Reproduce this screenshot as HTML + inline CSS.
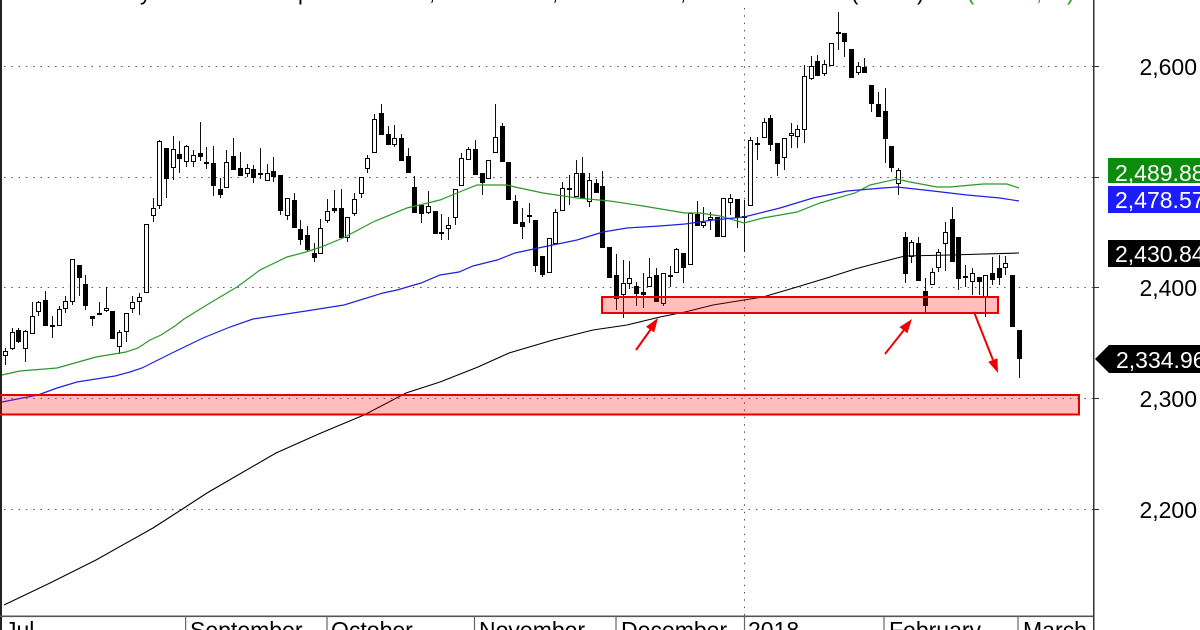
<!DOCTYPE html>
<html>
<head>
<meta charset="utf-8">
<style>
  html,body{margin:0;padding:0;background:#fff;}
  svg{display:block;}
  text{font-family:"Liberation Sans",Arial,sans-serif;}
</style>
</head>
<body>
<svg width="1200" height="630" viewBox="0 0 1200 630" xmlns="http://www.w3.org/2000/svg">
  <rect x="0" y="0" width="1200" height="630" fill="#fff"/>

  <!-- title descenders (title mostly cut off) -->
  <g font-size="22" fill="#000">
    <text x="140" y="0">y</text>
    <text x="298" y="0">p</text>
    <text x="429" y="0">,</text>
    <text x="552" y="0">,</text>
    <text x="680" y="0">,</text>
    <text x="851" y="0">(</text>
    <text x="917" y="0">)</text>
    <text x="967" y="0" fill="#2a9a2a">(</text>
    <text x="1036" y="0" fill="#2a9a2a">,</text>
    <text x="1067" y="0" fill="#2a9a2a">)</text>
  </g>

  <!-- grid -->
  <g stroke="#555" stroke-width="1" stroke-dasharray="1.5 5.8" fill="none">
    <line x1="4" y1="66.5" x2="1093" y2="66.5"/>
    <line x1="4" y1="177.5" x2="1093" y2="177.5"/>
    <line x1="4" y1="287.5" x2="1093" y2="287.5"/>
    <line x1="4" y1="398.5" x2="1093" y2="398.5"/>
    <line x1="4" y1="509.5" x2="1093" y2="509.5"/>
    <line x1="744.5" y1="8" x2="744.5" y2="616"/>
  </g>

  <!-- axes -->
  <rect x="0" y="0" width="2" height="630" fill="#222"/>
  <rect x="0" y="615.5" width="1094" height="1.6" fill="#555"/>
  <rect x="1093" y="0" width="1.5" height="630" fill="#333"/>
  <g stroke="#333" stroke-width="1">
    <line x1="1094" y1="66.5" x2="1099" y2="66.5"/>
    <line x1="1094" y1="177.5" x2="1099" y2="177.5"/>
    <line x1="1094" y1="287.5" x2="1099" y2="287.5"/>
    <line x1="1094" y1="398.5" x2="1099" y2="398.5"/>
    <line x1="1094" y1="509.5" x2="1099" y2="509.5"/>
  </g>
  <g stroke="#666" stroke-width="1.2">
    <line x1="185.6" y1="616" x2="185.6" y2="630"/>
    <line x1="327" y1="616" x2="327" y2="630"/>
    <line x1="474.5" y1="616" x2="474.5" y2="630"/>
    <line x1="616" y1="616" x2="616" y2="630"/>
    <line x1="744.5" y1="616" x2="744.5" y2="630"/>
    <line x1="884" y1="616" x2="884" y2="630"/>
    <line x1="1018" y1="616" x2="1018" y2="630"/>
  </g>

  <!-- month labels -->
  <g font-size="23" fill="#000">
    <text x="5" y="638">Jul</text>
    <text x="190" y="638">September</text>
    <text x="331" y="638">October</text>
    <text x="479" y="638">November</text>
    <text x="621" y="638">December</text>
    <text x="748" y="638">2018</text>
    <text x="889" y="638">February</text>
    <text x="1023" y="638">March</text>
  </g>

  <!-- price labels -->
  <g font-size="23" fill="#000" text-anchor="end">
    <text x="1197" y="75">2,600</text>
    <text x="1197" y="296">2,400</text>
    <text x="1197" y="407">2,300</text>
    <text x="1197" y="518">2,200</text>
  </g>

  <!-- wicks -->
  <path fill="none" stroke="#111" stroke-width="1" d="M5.5 348V365M12.5 328V350M18.5 328V343M25.5 330V362M32.5 302V334M38.5 301V316M45.5 291V326M52.5 316V338M59.5 306V326M65.5 296V313M72.5 259V305M79.5 265V296M85.5 275V310M92.5 316V326M99.5 302V315M106.5 287V312M112.5 311V339M119.5 330V354M126.5 313V342M132.5 296V313M139.5 293V315M146.5 224V293M153.5 198V222M159.5 140V209M166.5 148V198M173.5 136V180M179.5 141V173M186.5 145V167M193.5 150V167M200.5 122V161M206.5 147V169M213.5 146V196M220.5 178V198M226.5 150V188M233.5 138V170M240.5 152V176M247.5 164V177M253.5 165V183M260.5 148V179M267.5 164V181M273.5 157V182M280.5 175V215M287.5 198V220M294.5 193V228M300.5 220V245M307.5 226V252M314.5 243V262M320.5 219V254M327.5 199V223M334.5 190V213M341.5 189V238M347.5 217V242M354.5 193V216M361.5 177V198M367.5 155V173M374.5 114V153M381.5 104V135M388.5 126V145M394.5 125V147M401.5 134V161M408.5 148V173M414.5 176V213M421.5 205V223M428.5 191V214M435.5 211V234M441.5 214V240M448.5 217V240M455.5 189V225M461.5 153V186M468.5 147V160M475.5 140V175M482.5 173V195M488.5 160V179M495.5 104V153M502.5 123V162M508.5 162V200M515.5 195V224M522.5 208V239M529.5 203V223M535.5 220V272M542.5 256V277M549.5 238V273M555.5 209V244M562.5 182V211M569.5 175V205M576.5 160V197M582.5 157V199M589.5 173V207M596.5 179V193M602.5 171V248M609.5 247V278M616.5 254V310M623.5 260V318M629.5 261V289M636.5 282V306M643.5 273V308M649.5 258V287M656.5 268V302M663.5 273V306M670.5 266V287M676.5 248V273M683.5 253V283M690.5 213V265M697.5 201V226M703.5 207V228M710.5 212V230M717.5 217V237M723.5 198V237M730.5 194V215M737.5 199V228M744.5 200V252M750.5 137V206M757.5 137V160M764.5 118V138M770.5 115V151M777.5 143V176M784.5 138V170M791.5 123V148M797.5 125V148M804.5 65V143M811.5 56V80M817.5 55V76M824.5 60V76M831.5 43V66M838.5 12V50M844.5 33V57M851.5 49V78M858.5 62V75M864.5 58V73M871.5 85V112M878.5 92V117M885.5 88V163M891.5 146V172M898.5 168V195M905.5 232V283M911.5 240V263M918.5 237V281M925.5 278V313M932.5 268V285M938.5 249V272M945.5 222V271M952.5 207V262M958.5 237V290M965.5 265V287M972.5 268V295M979.5 277V295M985.5 275V317M992.5 257V285M999.5 255V285M1005.5 256V275M1012.5 275V327M1019.5 330V378"/>

  <!-- filled (down) bodies -->
  <path fill="#000" d="M16 330h5V342h-5zM43 300h5V326h-5zM50 325h5V327h-5zM77 265h5V278h-5zM83 284h5V306h-5zM90 316h5V319h-5zM97 313h5V315h-5zM110 311h5V339h-5zM164 148h5V179h-5zM177 154h5V159h-5zM198 153h5V157h-5zM204 162h5V164h-5zM211 163h5V186h-5zM218 189h5V195h-5zM231 156h5V170h-5zM238 168h5V176h-5zM251 169h5V178h-5zM258 173h5V175h-5zM271 171h5V177h-5zM278 175h5V211h-5zM292 200h5V228h-5zM298 229h5V240h-5zM305 235h5V250h-5zM312 253h5V258h-5zM332 208h5V211h-5zM339 208h5V238h-5zM379 113h5V135h-5zM386 134h5V145h-5zM399 138h5V161h-5zM406 156h5V173h-5zM412 187h5V213h-5zM419 205h5V214h-5zM433 211h5V234h-5zM439 232h5V234h-5zM473 149h5V175h-5zM480 173h5V183h-5zM500 126h5V162h-5zM506 162h5V200h-5zM513 201h5V224h-5zM520 222h5V227h-5zM527 215h5V217h-5zM533 220h5V266h-5zM540 256h5V275h-5zM567 188h5V190h-5zM580 173h5V199h-5zM594 183h5V193h-5zM600 186h5V248h-5zM607 247h5V278h-5zM614 275h5V299h-5zM634 286h5V294h-5zM641 292h5V295h-5zM654 275h5V302h-5zM668 275h5V277h-5zM681 253h5V268h-5zM695 214h5V226h-5zM715 217h5V237h-5zM735 199h5V218h-5zM742 216h5V218h-5zM755 143h5V145h-5zM768 118h5V145h-5zM775 143h5V164h-5zM815 61h5V76h-5zM836 32h5V34h-5zM842 33h5V42h-5zM849 49h5V78h-5zM862 67h5V73h-5zM869 85h5V104h-5zM876 104h5V117h-5zM883 111h5V139h-5zM889 146h5V168h-5zM903 237h5V274h-5zM916 243h5V281h-5zM923 291h5V306h-5zM950 219h5V262h-5zM956 237h5V279h-5zM963 276h5V278h-5zM977 277h5V282h-5zM990 273h5V280h-5zM997 268h5V278h-5zM1010 275h5V327h-5zM1017 330h5V359h-5z"/>

  <!-- hollow (up) bodies -->
  <path fill="#fff" stroke="#000" stroke-width="1" d="M3.5 351.5h4V355.5h-4zM10.5 332.5h4V348.5h-4zM23.5 331.5h4V348.5h-4zM30.5 316.5h4V333.5h-4zM36.5 302.5h4V311.5h-4zM57.5 309.5h4V325.5h-4zM63.5 301.5h4V308.5h-4zM70.5 259.5h4V301.5h-4zM104.5 308.5h4V310.5h-4zM117.5 332.5h4V346.5h-4zM124.5 313.5h4V331.5h-4zM130.5 302.5h4V308.5h-4zM137.5 297.5h4V301.5h-4zM144.5 224.5h4V292.5h-4zM151.5 208.5h4V215.5h-4zM157.5 141.5h4V205.5h-4zM171.5 149.5h4V167.5h-4zM184.5 146.5h4V161.5h-4zM191.5 155.5h4V161.5h-4zM224.5 162.5h4V187.5h-4zM245.5 168.5h4V173.5h-4zM265.5 173.5h4V180.5h-4zM285.5 198.5h4V215.5h-4zM318.5 228.5h4V253.5h-4zM325.5 211.5h4V220.5h-4zM345.5 217.5h4V237.5h-4zM352.5 199.5h4V213.5h-4zM359.5 177.5h4V193.5h-4zM365.5 158.5h4V168.5h-4zM372.5 119.5h4V152.5h-4zM392.5 138.5h4V144.5h-4zM426.5 206.5h4V212.5h-4zM446.5 225.5h4V228.5h-4zM453.5 189.5h4V217.5h-4zM459.5 158.5h4V185.5h-4zM466.5 149.5h4V159.5h-4zM486.5 160.5h4V178.5h-4zM493.5 137.5h4V152.5h-4zM547.5 238.5h4V272.5h-4zM553.5 212.5h4V243.5h-4zM560.5 188.5h4V210.5h-4zM574.5 173.5h4V196.5h-4zM587.5 180.5h4V201.5h-4zM621.5 283.5h4V294.5h-4zM627.5 278.5h4V283.5h-4zM647.5 277.5h4V286.5h-4zM661.5 273.5h4V303.5h-4zM674.5 249.5h4V272.5h-4zM688.5 213.5h4V264.5h-4zM701.5 222.5h4V225.5h-4zM708.5 217.5h4V219.5h-4zM721.5 198.5h4V236.5h-4zM728.5 198.5h4V202.5h-4zM748.5 140.5h4V205.5h-4zM762.5 122.5h4V137.5h-4zM782.5 138.5h4V157.5h-4zM789.5 133.5h4V135.5h-4zM795.5 129.5h4V136.5h-4zM802.5 76.5h4V129.5h-4zM809.5 66.5h4V78.5h-4zM822.5 64.5h4V73.5h-4zM829.5 43.5h4V65.5h-4zM856.5 66.5h4V72.5h-4zM896.5 170.5h4V183.5h-4zM909.5 242.5h4V256.5h-4zM930.5 272.5h4V284.5h-4zM936.5 252.5h4V267.5h-4zM943.5 232.5h4V243.5h-4zM970.5 273.5h4V281.5h-4zM983.5 275.5h4V297.5h-4zM1003.5 263.5h4V267.5h-4z"/>

  <!-- moving averages -->
  <polyline fill="none" stroke="#2a982a" stroke-width="1.2" points="2,375 20,371 57,368 96,357 126,352 138,348 150,340 161,335 175,326 184,319 210,303 237,287 260,270 287,257 306,252 321,247 343,238 373,222 407,208 440,200 457,193 477,185 507,185 515,187 543,193 577,198 610,201 643,206 685,213 700,213 720,216 744,223 763,218 797,212 820,203 855,193 870,185 897,179 910,182 937,187 950,187 983,184 1007,184 1019,188"/>
  <polyline fill="none" stroke="#2020e0" stroke-width="1.2" points="2,402 38,395 57,388 77,382 115,376 130,372 142,368 172,353 203,338 230,327 253,319 306,311 344,305 383,293 397,290 421,283 440,275 459,272 473,266 497,260 515,253 543,247 577,240 603,232 627,228 660,226 685,224 713,220 744,217 780,208 813,198 847,191 883,188 897,187 933,191 967,195 1000,198 1019,201"/>
  <polyline fill="none" stroke="#000" stroke-width="1.1" points="4,605 50,583 96,560 153,528 184,508 207,493 276,453 321,433 364,415 406,393 440,382 478,367 509,353 553,340 593,330 627,325 660,317 685,312 713,305 744,300 763,297 797,287 830,277 855,269 870,265 897,258 905,256 950,255 1019,253"/>

  <!-- support zones -->
  <rect x="602" y="297" width="396" height="16" fill="rgba(255,0,0,0.26)" stroke="#e60000" stroke-width="2"/>
  <rect x="-3" y="395" width="1082" height="19.5" fill="rgba(255,0,0,0.26)" stroke="#e60000" stroke-width="2"/>

  <!-- arrows -->
  <g stroke="#ee0000" stroke-width="2" fill="none">
    <line x1="636" y1="350" x2="651" y2="329"/>
    <line x1="885" y1="354" x2="904" y2="330"/>
    <line x1="974" y1="312" x2="993" y2="360"/>
  </g>
  <g fill="#ee0000">
    <polygon points="658,318 654.2,332.4 646,326.8"/>
    <polygon points="912,319 907.4,333.2 899.5,327.1"/>
    <polygon points="998,373 997.5,358.2 988.2,361.8"/>
  </g>

  <!-- value boxes -->
  <rect x="1108" y="158" width="92" height="25" fill="#0c8c0c"/>
  <rect x="1108" y="186" width="92" height="27" fill="#1c1cff"/>
  <rect x="1108" y="240" width="92" height="27" fill="#000"/>
  <polygon points="1095,359 1109,345 1200,345 1200,373 1109,373" fill="#000"/>
  <g font-size="23" fill="#fff">
    <text x="1115" y="181">2,489.88</text>
    <text x="1115" y="208">2,478.57</text>
    <text x="1115" y="262">2,430.84</text>
    <text x="1116" y="368">2,334.96</text>
  </g>
</svg>
</body>
</html>
